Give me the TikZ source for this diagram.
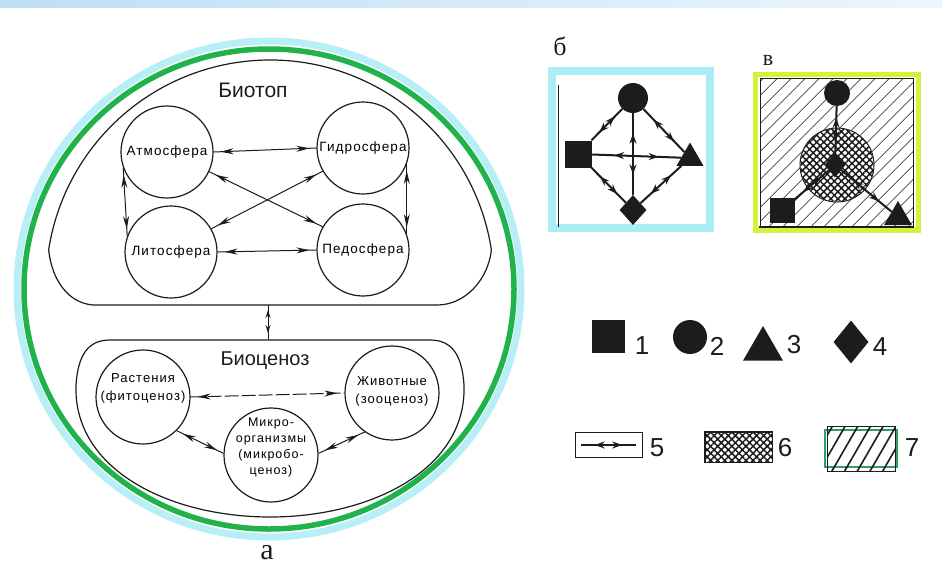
\documentclass[tikz,border=0pt]{standalone}
\usepackage{fontspec}
\setmainfont{Liberation Serif}
\newfontfamily\spherefont[LetterSpace=8]{Liberation Sans}
\newfontfamily\titlefont{Liberation Sans}
\newfontfamily\numfont{Liberation Sans}
\usetikzlibrary{shapes.geometric,decorations.markings,arrows.meta,patterns.meta}
\definecolor{ringcyan}{RGB}{184,238,245}
\definecolor{ringgreen}{RGB}{34,178,76}
\definecolor{framecyan}{RGB}{172,236,243}
\definecolor{frameyellow}{RGB}{214,240,60}
\definecolor{legendgreen}{RGB}{50,160,100}
\definecolor{inkdark}{RGB}{28,28,28}
\definecolor{bandL}{RGB}{190,222,246}
\definecolor{bandR}{RGB}{236,246,253}
\begin{document}
\begin{tikzpicture}[x=1pt,y=-1pt,
  sphere/.style={circle, draw=inkdark, line width=1.2pt, minimum size=92pt, inner sep=0pt,
    font=\spherefont\fontsize{13.5}{17}\selectfont},
  celltext/.style={align=center, inner sep=0pt, font=\spherefont\fontsize{13}{18}\selectfont},
  bilink/.style={draw=inkdark, line width=1pt, postaction={decorate},
    decoration={markings,
      mark=at position 7pt with {\arrowreversed{Stealth[length=13pt,width=6pt]}},
      mark=at position -7pt with {\arrow{Stealth[length=13pt,width=6pt]}}}},
  shortlink/.style={draw=inkdark, line width=1pt, postaction={decorate},
    decoration={markings,
      mark=at position 5pt with {\arrowreversed{Stealth[length=8pt,width=5pt]}},
      mark=at position -7pt with {\arrow{Stealth[length=8pt,width=5pt]}}}},
  symlink/.style={draw=inkdark, line width=2pt, postaction={decorate},
    decoration={markings,
      mark=at position 0.25 with {\arrowreversed{Stealth[length=10pt,width=7pt]}},
      mark=at position 0.75 with {\arrow{Stealth[length=10pt,width=7pt]}}}},
  sq/.style={rectangle, fill=inkdark, minimum size=27pt, inner sep=0pt},
  dot/.style={circle, fill=inkdark, minimum size=30pt, inner sep=0pt},
  tri/.style={regular polygon, regular polygon sides=3, fill=inkdark, minimum size=31pt, inner sep=0pt},
  dia/.style={diamond, fill=inkdark, minimum width=27pt, minimum height=30pt, inner sep=0pt},
  num/.style={font=\numfont\fontsize{26}{26}\selectfont, inner sep=0pt, text=inkdark},
  panel/.style={font=\fontsize{26}{26}\selectfont, inner sep=0pt, text=inkdark}
]
\useasboundingbox (0,0) rectangle (942,570);
\shade[left color=bandL, right color=bandR] (0,0) rectangle (942,7);

% ---------------- panel a ----------------
\draw[ringcyan, line width=7pt] (269,289) ellipse [x radius=252, y radius=248];
\draw[ringgreen, line width=5.5pt] (269,289) ellipse [x radius=245, y radius=240];

% biotop outline
\draw[inkdark, line width=1.2pt] (93,305) -- (437,305)
  .. controls (465,305) and (488,280) .. (491.4,250)
  arc[start angle=-8.73, end angle=-171.27, radius=224]
  .. controls (52,280) and (68,303) .. (93,305) -- cycle;
% biocenosis outline
\draw[inkdark, line width=1.2pt] (110,340) -- (430,340)
  .. controls (452,340) and (462,355) .. (464,385)
  .. controls (467,470) and (370,517) .. (270,517)
  .. controls (170,517) and (73,470) .. (76,385)
  .. controls (78,355) and (88,340) .. (110,340) -- cycle;

\node[font=\titlefont\fontsize{21}{21}\selectfont, text=inkdark] (biotop) at (253,90) {Биотоп};
\node[font=\titlefont\fontsize{20}{20}\selectfont, text=inkdark] (biocen) at (265,361) {Биоценоз};

\node[sphere] (atm) at (167,152) {Атмосфера};
\node[sphere] (hyd) at (363,148) {Гидросфера};
\node[sphere] (lit) at (171,252) {Литосфера};
\node[sphere] (ped) at (363,250) {Педосфера};

\draw[bilink] (atm.east) -- (hyd.west);
\draw[bilink] (lit.east) -- (ped.west);
\draw[bilink] (atm.200) -- (lit.160);
\draw[bilink] (hyd.-20) -- (ped.20);
\draw[bilink] (atm.-25) -- (ped.150);
\draw[bilink] (lit.30) -- (hyd.210);

\coordinate (btbot) at (268,305);
\coordinate (bctop) at (268,340);
\draw[shortlink] (btbot) -- (bctop);

\node[sphere, minimum size=94pt] (pla) at (143,397) {};
\node[sphere, minimum size=94pt] (ani) at (392,393) {};
\node[sphere, minimum size=94pt] (mic) at (271,455) {};
\node[celltext] (plat) at (143,388) {Растения\\(фитоценоз)};
\node[celltext] (anit) at (392,391) {Животные\\(зооценоз)};
\node[celltext, font=\spherefont\fontsize{12.5}{16}\selectfont] (mict) at (271,447) {Микро-\\организмы\\(микробо-\\ценоз)};

\draw[bilink, dash pattern=on 14pt off 3pt] (pla.east) -- (ani.west);
\draw[bilink] (pla.-45) -- (mic.178);
\draw[bilink] (mic.2) -- (ani.-125);

\node[panel, font=\fontsize{30}{30}\selectfont] (la) at (267,553) {а};

% ---------------- panel b ----------------
\node[panel] (lb) at (560,46) {б};
\draw[framecyan, line width=8pt] (552,71) rectangle (710,227.5);
\coordinate (bl1) at (558,85);
\coordinate (bl2) at (558,227);
\draw[inkdark, line width=0.6pt] (bl1) -- (bl2);

\node[dot] (b2) at (633,98) {};
\node[sq] (b1) at (578,154) {};
\node[tri] (b3) at (690,158) {};
\node[dia] (b4) at (633,210) {};
\draw[symlink] (b2) -- (b1);
\draw[symlink] (b2) -- (b3);
\draw[symlink] (b2) -- (b4);
\draw[symlink] (b1) -- (b3);
\draw[symlink] (b1) -- (b4);
\draw[symlink] (b3) -- (b4);

% ---------------- panel v ----------------
\node[panel, font=\fontsize{22}{22}\selectfont] (lv) at (768,60) {в};
\draw[frameyellow, line width=5.5pt] (755.5,74.5) rectangle (918.5,230);
\fill[pattern={Lines[angle=45,distance=10.5pt,line width=0.9pt]}, pattern color=inkdark] (760,78) rectangle (913,227);
\draw[inkdark, line width=0.8pt] (760,227) -- (760,78) -- (913,78) -- (913,227);
\draw[inkdark, line width=2pt] (759,227) -- (914,227);

\node[circle, draw=inkdark, line width=1pt, fill=white, minimum size=74pt, inner sep=0pt] (cz) at (837,165) {};
\fill[pattern={Hatch[angle=45,distance=5pt,line width=1.5pt]}, pattern color=inkdark] (cz) circle [radius=36.5];
\node[dot, minimum size=26pt] (c2) at (837,93) {};
\node[dia, minimum width=21pt, minimum height=25pt] (c4) at (835,165) {};
\node[sq, minimum size=25pt] (c1) at (782,210) {};
\node[tri, minimum size=32pt] (c3) at (898,217) {};
\draw[symlink] (c2) -- (c4);
\draw[symlink] (c4) -- (c1);
\draw[symlink] (c4) -- (c3);

% ---------------- legend ----------------
\node[sq, minimum size=33pt] (k1) at (608,336) {};
\node[num] (n1) at (642,346) {1};
\node[dot, minimum size=34pt] (k2) at (690,337) {};
\node[num] (n2) at (717,346) {2};
\node[tri, minimum size=46pt] (k3) at (763,349) {};
\node[num] (n3) at (794,345) {3};
\node[dia, minimum width=35pt, minimum height=43pt] (k4) at (851,342) {};
\node[num] (n4) at (880,347) {4};

\node[draw=inkdark, line width=0.8pt, minimum width=67pt, minimum height=25pt, inner sep=0pt] (k5) at (608.5,444.5) {};
\coordinate (k5a) at (581,445);
\coordinate (k5b) at (636,445);
\draw[symlink, line width=1.5pt] (k5a) -- (k5b);
\node[num] (n5) at (657,448) {5};

\node[draw=inkdark, line width=0.8pt, fill=white, minimum width=67pt, minimum height=30pt, inner sep=0pt] (k6) at (738.5,447) {};
\fill[pattern={Hatch[angle=45,distance=5pt,line width=1.5pt]}, pattern color=inkdark] (k6.south west) rectangle (k6.north east);
\draw[inkdark, line width=0.8pt] (k6.south west) rectangle (k6.north east);
\node[num] (n6) at (785,448) {6};

\node[draw=legendgreen, line width=2pt, minimum width=72pt, minimum height=37pt, inner sep=0pt] (k7) at (861,448.5) {};
\fill[pattern={Lines[angle=60,distance=11pt,line width=1.6pt]}, pattern color=inkdark] ([shift={(3,3)}]k7.south west) rectangle ([shift={(-3,-3)}]k7.north east);
\draw[inkdark, line width=0.6pt] ([shift={(3,3)}]k7.south west) rectangle ([shift={(-3,-3)}]k7.north east);
\node[num] (n7) at (912,448) {7};
\end{tikzpicture}
\end{document}
